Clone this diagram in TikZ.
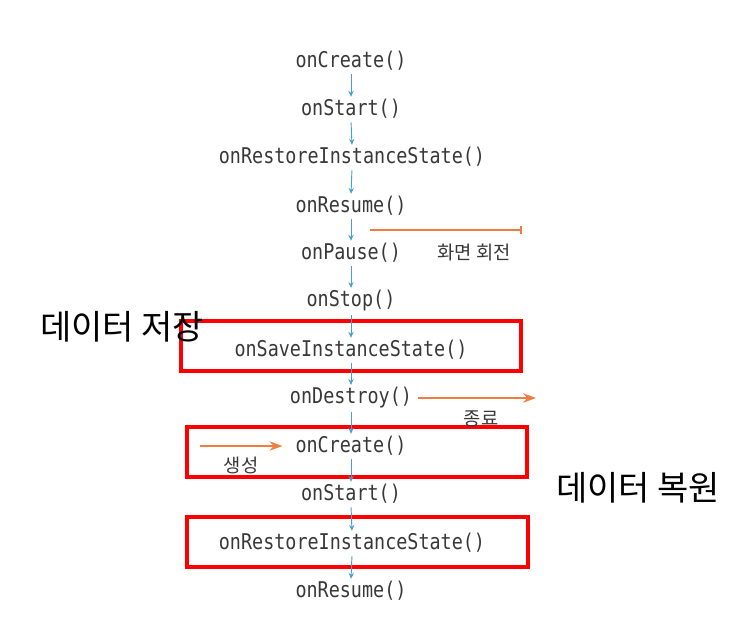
\documentclass[tikz,border=0pt]{standalone}
\usepackage{fontspec}
\newfontfamily\methodfont[FakeStretch=0.85]{DejaVu Sans Mono}
\newfontfamily\kor{Noto Sans CJK KR}
\usetikzlibrary{arrows.meta}
\definecolor{flowblue}{HTML}{4A9FD0}
\definecolor{turnorange}{HTML}{EE7D3F}
\definecolor{textgray}{HTML}{383838}
\tikzset{
  method/.style={font=\methodfont\fontsize{18.5}{19}\selectfont,text=textgray,inner sep=1pt},
  flow/.style={flowblue,thick,-{Stealth[length=5pt,width=4.5pt]},shorten <=2pt,shorten >=1pt},
  turn/.style={turnorange,line width=1.3pt,-{Stealth[length=11pt,width=8pt]}},
  redbox/.style={red,line width=2.6pt},
  smalllabel/.style={font=\kor\fontsize{16}{17}\selectfont,text=textgray},
  biglabel/.style={font=\kor\fontsize{29}{30}\selectfont,text=black}
}

\begin{document}
\begin{tikzpicture}[x=0.03cm,y=-0.03cm]
      \useasboundingbox (0,0) rectangle (742,640);
      % red boxes
      \draw[redbox] (181,321) rectangle (521,371);
      \draw[redbox] (187,427) rectangle (527,477);
      \draw[redbox] (187,517) rectangle (528,567);
      % lifecycle methods
      \node[method] (create1) at (351,61) {onCreate()};
      \node[method] (start1) at (351,109) {onStart()};
      \node[method] (restore1) at (352,157) {onRestoreInstanceState()};
      \node[method] (resume1) at (351,206) {onResume()};
      \node[method] (pause) at (351,253) {onPause()};
      \node[method] (stop) at (351,301) {onStop()};
      \node[method] (save) at (351,350) {onSaveInstanceState()};
      \node[method] (destroy) at (351,398) {onDestroy()};
      \node[method] (create2) at (351,446) {onCreate()};
      \node[method] (start2) at (351,494) {onStart()};
      \node[method] (restore2) at (352,543) {onRestoreInstanceState()};
      \node[method] (resume2) at (351,591) {onResume()};
      \foreach \a/\b in {create1/start1,start1/restore1,restore1/resume1,resume1/pause,
        pause/stop,stop/save,save/destroy,destroy/create2,create2/start2,
        start2/restore2,restore2/resume2}
        \draw[flow] (\a.south) -- (\b.north);
      % screen rotation
      \coordinate (rotA) at (370,230);
      \coordinate (rotB) at (522,230);
      \draw[turnorange,line width=1.3pt,-{Bar[width=6pt]}] (rotA) -- (rotB);
      \node[smalllabel] (rotlabel) at (474,252) {화면 회전};
      \coordinate (endB) at (536,398);
      \draw[turn,shorten <=4pt] (destroy.east) -- (endB);
      \node[smalllabel] (endlabel) at (481,419) {종료};
      \coordinate (newA) at (200,446);
      \draw[turn,shorten >=10pt] (newA) -- (create2.west);
      \node[smalllabel] (newlabel) at (241,465) {생성};
      % data labels
      \node[biglabel] (savelabel) at (122,327) {데이터 저장};
      \node[biglabel] (restorelabel) at (638,488) {데이터 복원};
\end{tikzpicture}
\end{document}
